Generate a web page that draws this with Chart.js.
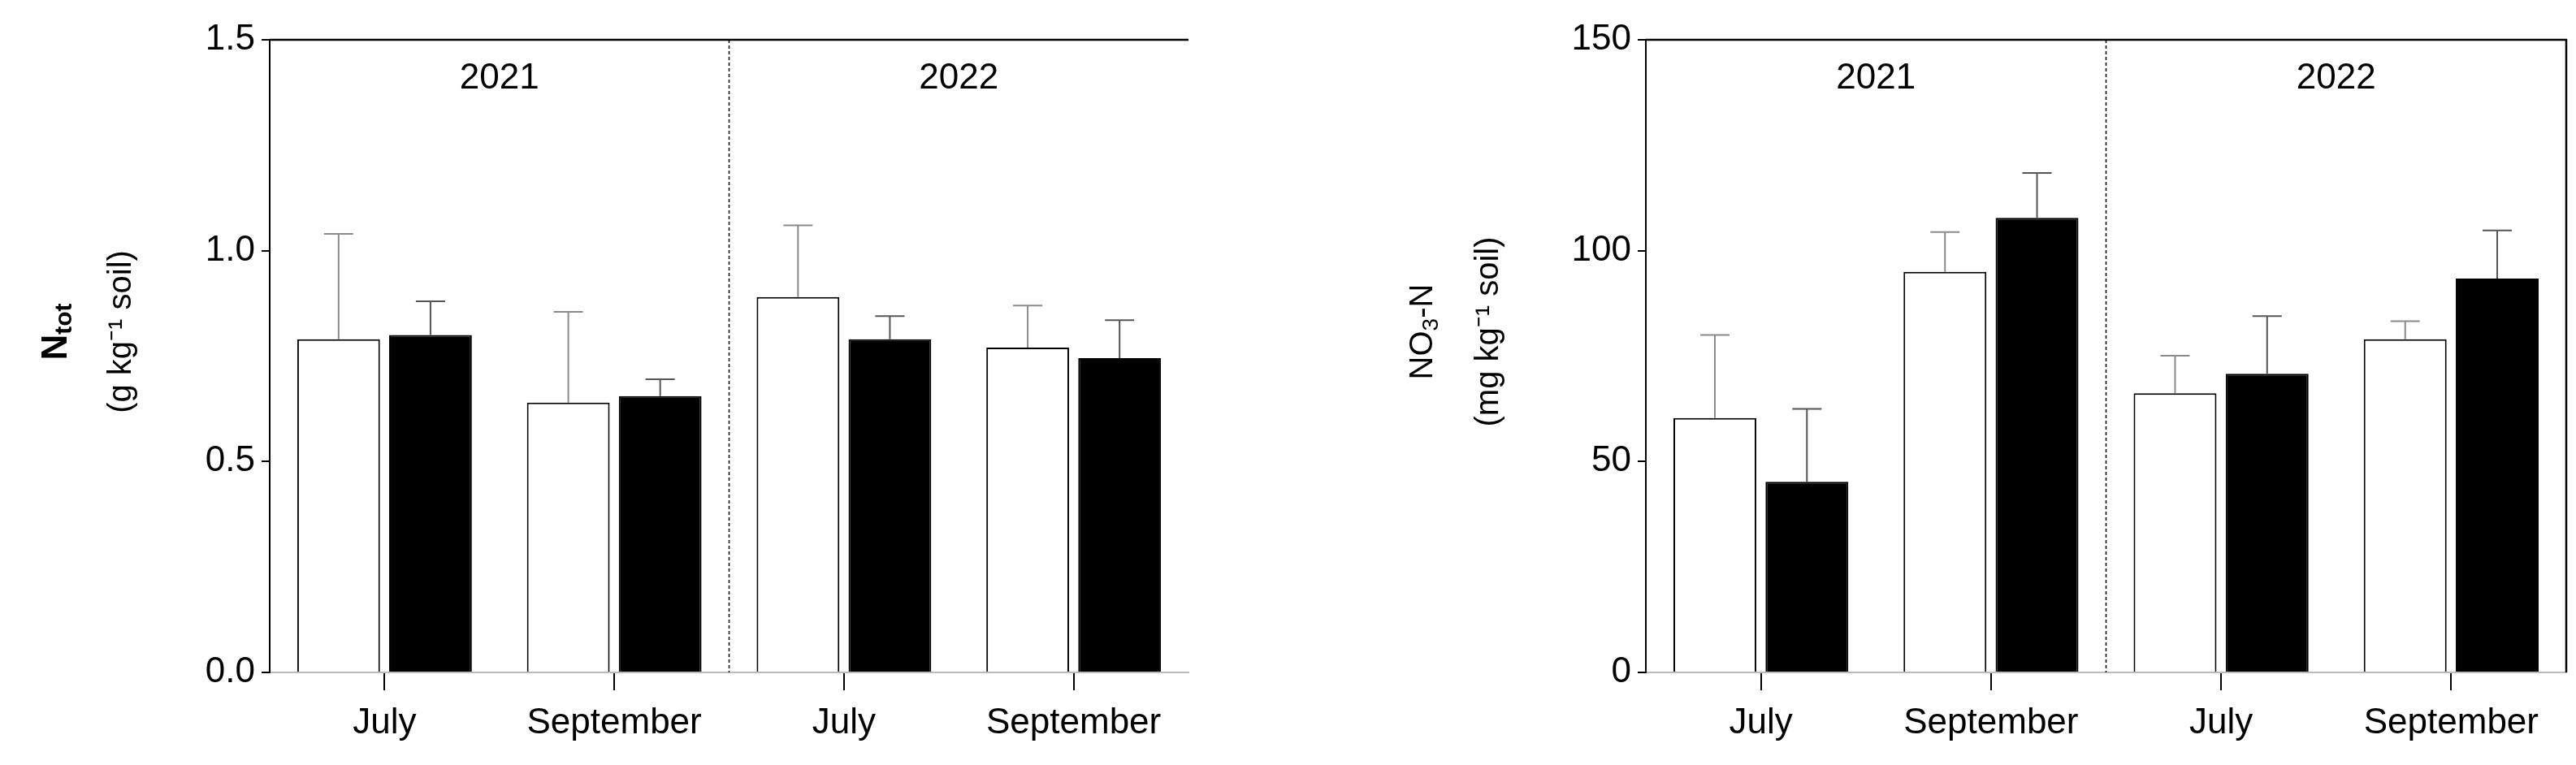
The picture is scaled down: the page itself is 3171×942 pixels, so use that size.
<!DOCTYPE html>
<html><head><meta charset="utf-8">
<script src="https://cdn.jsdelivr.net/npm/chart.js@4.4.0/dist/chart.umd.min.js"></script>
<style>body{margin:0;background:#fff;width:3171px;height:942px;position:relative;overflow:hidden}canvas{position:absolute;top:0}</style>
</head><body>
<canvas id="c1" width="1500" height="942" style="left:0"></canvas>
<canvas id="c2" width="1611" height="942" style="left:1560px"></canvas>
<script>
const months = ["July","September","July","September"];
const years = ["2021","2022"];
const ntotControl = [0.79,0.64,0.89,0.77];
const ntotControlSD = [0.25,0.215,0.17,0.10];
const ntotTreat = [0.80,0.655,0.79,0.745];
const ntotTreatSD = [0.08,0.04,0.055,0.09];
const no3Control = [60.3,95,66.2,79];
const no3ControlSD = [19.7,9.4,8.9,4.3];
const no3Treat = [45.2,107.8,70.8,93.4];
const no3TreatSD = [17.3,10.6,13.7,11.4];

const FONT = "'Liberation Sans Narrow','Liberation Sans',Arial,sans-serif";
Chart.defaults.font.family = FONT;
Chart.defaults.color = '#000';

function makeChart(id, cfg){
  const errPlugin = {
    id:'extras',
    afterDatasetsDraw(chart){
      const ctx = chart.ctx, a = chart.chartArea, xs = chart.scales.x, ys = chart.scales.y;
      // error bars
      chart.data.datasets.forEach((ds,di)=>{
        const meta = chart.getDatasetMeta(di);
        meta.data.forEach((bar,i)=>{
          const top = ys.getPixelForValue(ds.data[i]+ds.sd[i]);
          ctx.save(); ctx.strokeStyle = di===0?'#8a8a8a':'#555'; ctx.lineWidth=2;
          ctx.beginPath(); ctx.moveTo(bar.x, bar.y); ctx.lineTo(bar.x, top);
          ctx.moveTo(bar.x-18, top); ctx.lineTo(bar.x+18, top); ctx.stroke(); ctx.restore();
        });
      });
      // divider
      const xm = (xs.getPixelForValue(1)+xs.getPixelForValue(2))/2;
      ctx.save(); ctx.strokeStyle='#000'; ctx.lineWidth=1.5; ctx.setLineDash([4,3]);
      ctx.beginPath(); ctx.moveTo(xm,a.top); ctx.lineTo(xm,a.bottom); ctx.stroke(); ctx.restore();
      // borders
      ctx.save(); ctx.strokeStyle='#000'; ctx.lineWidth=2.5;
      ctx.beginPath(); ctx.moveTo(a.left,a.top); ctx.lineTo(a.right,a.top);
      if(cfg.rightBorder){ctx.lineTo(a.right,a.bottom);} ctx.stroke(); ctx.restore();
      // years
      ctx.save(); ctx.font = "44px "+FONT; ctx.textAlign='center'; ctx.textBaseline='middle'; ctx.fillStyle='#000';
      ctx.fillText(years[0], (a.left+xm)/2, a.top+48);
      ctx.fillText(years[1], (xm+a.right)/2, a.top+48);
      ctx.restore();
      // y title
      ctx.save(); ctx.fillStyle='#000'; ctx.textAlign='center'; ctx.textBaseline='middle';
      const cy = (a.top+a.bottom)/2 - 30;
      ctx.translate(cfg.t1x, cy); ctx.rotate(-Math.PI/2);
      cfg.drawTitle1(ctx);
      ctx.restore();
      ctx.save(); ctx.fillStyle='#000'; ctx.textAlign='center'; ctx.textBaseline='middle';
      ctx.translate(cfg.t2x, cy); ctx.rotate(-Math.PI/2);
      ctx.font = "40px 'Liberation Sans',Arial,sans-serif";
      ctx.fillText(cfg.title2, 0, 0);
      ctx.restore();
    }
  };
  return new Chart(document.getElementById(id), {
    type:'bar',
    data:{labels:months, datasets:[
      {data:cfg.a, sd:cfg.asd, backgroundColor:'#fff', borderColor:'#000', borderWidth:2, barPercentage:0.9, categoryPercentage:0.8},
      {data:cfg.b, sd:cfg.bsd, backgroundColor:'#000', borderColor:'#000', borderWidth:2, barPercentage:0.9, categoryPercentage:0.8}
    ]},
    options:{
      responsive:false, devicePixelRatio:1, animation:false,
      layout:{padding:{top:49,right:cfg.rightPad,left:0,bottom:0}},
      plugins:{legend:{display:false},tooltip:{enabled:false}},
      scales:{
        x:{grid:{offset:false,drawOnChartArea:false,color:'#000',tickLength:22,lineWidth:2},
           border:{color:'#bbb',width:2},
           ticks:{font:{size:44},padding:14},
           afterFit(s){s.height=114;}},
        y:{min:0,max:cfg.max,
           ticks:{stepSize:cfg.step,font:{size:44},padding:8,callback:cfg.fmt},
           grid:{drawOnChartArea:false,color:'#000',tickLength:10,lineWidth:2},
           border:{color:'#000',width:2},
           afterFit(s){s.width=cfg.yw;}}
      }
    },
    plugins:[errPlugin]
  });
}

makeChart('c1',{a:ntotControl,asd:ntotControlSD,b:ntotTreat,bsd:ntotTreatSD,max:1.5,step:0.5,
  fmt:v=>Number(v).toFixed(1), yw:332, rightPad:37, rightBorder:false, t1x:70, t2x:150,
  title2:"(g kg\u207B\u00B9 soil)",
  drawTitle1(ctx){ctx.textAlign='left'; ctx.font="bold 44px 'Liberation Sans',Arial,sans-serif";
    const w1=ctx.measureText('N').width; ctx.font="bold 30px 'Liberation Sans',Arial,sans-serif";
    const w2=ctx.measureText('tot').width; const x0=-(w1+w2)/2;
    ctx.font="bold 44px 'Liberation Sans',Arial,sans-serif"; ctx.fillText('N',x0,0);
    ctx.font="bold 30px 'Liberation Sans',Arial,sans-serif"; ctx.fillText('tot',x0+w1,10);}
});
makeChart('c2',{a:no3Control,asd:no3ControlSD,b:no3Treat,bsd:no3TreatSD,max:150,step:50,
  fmt:v=>String(v), yw:466, rightPad:12, rightBorder:true, t1x:192, t2x:273,
  title2:"(mg kg\u207B\u00B9 soil)",
  drawTitle1(ctx){ctx.textAlign='left'; const F="'Liberation Sans',Arial,sans-serif";
    ctx.font="40px "+F; const a=ctx.measureText('NO').width; const c=ctx.measureText('-N').width;
    ctx.font="28px "+F; const b=ctx.measureText('3').width; const x0=-(a+b+c)/2;
    ctx.font="40px "+F; ctx.fillText('NO',x0,0); ctx.fillText('-N',x0+a+b,0);
    ctx.font="28px "+F; ctx.fillText('3',x0+a,10);}
});
</script>
</body></html>
